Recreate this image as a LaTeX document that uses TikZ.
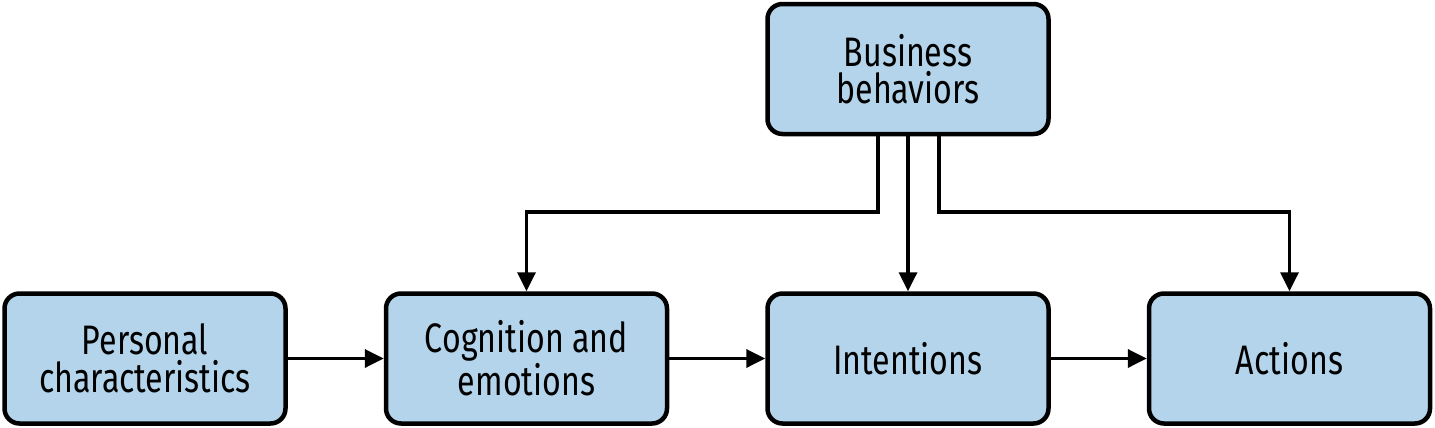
\documentclass[tikz,border=0pt]{standalone}
\usepackage{fontspec}
\setmainfont[FakeStretch=0.78]{Fira Sans}
\usetikzlibrary{arrows.meta}
\definecolor{boxfill}{HTML}{B3D4EA}
\tikzset{
  box/.style={draw=black, fill=boxfill, line width=2.25pt, rounded corners=7.5pt,
    minimum width=140.5pt, minimum height=65pt, align=center,
    font=\fontsize{20.6}{18.8}\selectfont, inner sep=0pt},
  arr/.style={line width=1.75pt, -{Triangle[length=9.5pt,width=9pt]}}
}
\begin{document}
\begin{tikzpicture}[x=0.5pt,y=-0.5pt]
\useasboundingbox (0,0) rectangle (1435,428);
\node[box] (pc) at (145,358.5) {Personal\\characteristics};
\node[box] (ce) at (526.5,358.5) {Cognition and\\emotions};
\node[box] (in) at (908,358.5) {Intentions};
\node[box] (ac) at (1289.5,358.5) {Actions};
\node[box] (bb) at (908,69) {Business\\behaviors};
\coordinate (lt) at (878,212);
\coordinate (rt) at (939,212);
\draw[arr] (pc) -- (ce);
\draw[arr] (ce) -- (in);
\draw[arr] (in) -- (ac);
\draw[arr] (bb) -- (in);
\draw[arr] (bb.south -| lt) -- (lt) -| (ce.north);
\draw[arr] (bb.south -| rt) -- (rt) -| (ac.north);
\end{tikzpicture}
\end{document}
